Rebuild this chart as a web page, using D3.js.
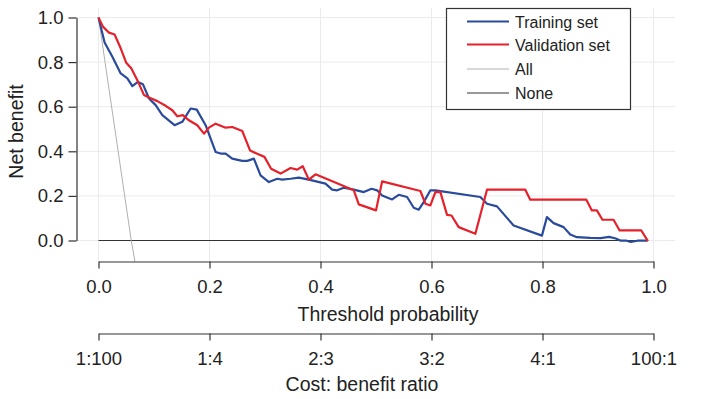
<!DOCTYPE html>
<html>
<head>
<meta charset="utf-8">
<script src="https://cdn.jsdelivr.net/npm/d3@7"></script>
<style>
  body { margin: 0; background: #fff; }
  text { font-family: "Liberation Sans", Arial, Helvetica, sans-serif; fill: #222; }
</style>
</head>
<body>
<div class="svgContainer"></div>
<script>
var w = 712;
var h = 399;

// threshold probability / net benefit
var trainX = [0, 0.011, 0.025, 0.040, 0.052, 0.061, 0.071, 0.080, 0.091, 0.103, 0.115, 0.137, 0.151, 0.166, 0.177,
  0.193, 0.211, 0.220, 0.229, 0.241, 0.259, 0.268, 0.280, 0.292, 0.307, 0.322, 0.331, 0.346, 0.361, 0.379,
  0.409, 0.421, 0.430, 0.442, 0.460, 0.478, 0.492, 0.502, 0.511, 0.529, 0.541, 0.556, 0.568, 0.577, 0.586,
  0.598, 0.607, 0.688, 0.700, 0.718, 0.748, 0.799, 0.808, 0.820, 0.838, 0.850, 0.862, 0.886, 0.905, 0.920,
  0.932, 0.941, 0.950, 0.959, 0.971, 0.989];
var trainY = [1.0, 0.888, 0.824, 0.749, 0.727, 0.692, 0.711, 0.701, 0.637, 0.607, 0.562, 0.517, 0.532, 0.592, 0.587,
  0.517, 0.397, 0.390, 0.390, 0.367, 0.357, 0.357, 0.367, 0.292, 0.262, 0.277, 0.273, 0.277, 0.282, 0.273,
  0.255, 0.228, 0.225, 0.237, 0.228, 0.217, 0.232, 0.225, 0.202, 0.184, 0.205, 0.195, 0.147, 0.138, 0.172,
  0.225, 0.225, 0.195, 0.165, 0.153, 0.067, 0.022, 0.105, 0.078, 0.060, 0.027, 0.015, 0.012, 0.011, 0.016,
  0.009, -0.001, 0, -0.006, -0.001, -0.001];

var validX = [0, 0.008, 0.019, 0.029, 0.040, 0.050, 0.059, 0.070, 0.082, 0.091, 0.106, 0.121, 0.133, 0.142, 0.152,
  0.163, 0.178, 0.190, 0.199, 0.211, 0.229, 0.241, 0.259, 0.273, 0.286, 0.299, 0.311, 0.328, 0.346, 0.358,
  0.368, 0.379, 0.391, 0.460, 0.469, 0.500, 0.511, 0.580, 0.589, 0.598, 0.607, 0.616, 0.628, 0.636, 0.649,
  0.679, 0.700, 0.769, 0.778, 0.879, 0.889, 0.898, 0.908, 0.928, 0.939, 0.978, 0.990];
var validY = [1.0, 0.959, 0.932, 0.924, 0.862, 0.797, 0.772, 0.719, 0.652, 0.641, 0.625, 0.604, 0.584, 0.557, 0.562,
  0.539, 0.517, 0.479, 0.506, 0.524, 0.506, 0.509, 0.491, 0.404, 0.389, 0.375, 0.322, 0.300, 0.325, 0.318,
  0.333, 0.273, 0.297, 0.225, 0.162, 0.135, 0.265, 0.222, 0.165, 0.157, 0.217, 0.217, 0.115, 0.112, 0.060,
  0.030, 0.228, 0.228, 0.183, 0.183, 0.135, 0.135, 0.093, 0.093, 0.045, 0.045, -0.003];

var allX = [0, 0.059, 0.066];
var allY = [1.0, 0, -0.10];
var noneX = [0, 0.99];
var noneY = [0, 0];

var xTicks = [0, 0.2, 0.4, 0.6, 0.8, 1.0];
var yTicks = [0, 0.2, 0.4, 0.6, 0.8, 1.0];
var ratioLabels = ["1:100", "1:4", "2:3", "3:2", "4:1", "100:1"];

var seriesNames = ["Training set", "Validation set", "All", "None"];
var seriesColors = ["#2a4b9b", "#e5212b", "#b0b0b0", "#333333"];
var seriesWidths = [2.2, 2.2, 1, 1];

var svg = d3.select(".svgContainer")
            .append("svg")
            .attr("width", w)
            .attr("height", h);

var xScale = d3.scaleLinear().domain([0, 1]).range([98.5, 653.5]);
var yScale = d3.scaleLinear().domain([0, 1]).range([240.5, 17.5]);

// plot region (R style, 4% extra)
var px0 = 76.5, px1 = 675, py0 = 8, py1 = 261.5;

svg.append("clipPath").attr("id", "clip")
   .append("rect")
   .attr("x", px0).attr("y", py0)
   .attr("width", px1 - px0).attr("height", py1 - py0);

// grid
svg.selectAll(".vgrid")
   .data(xTicks).enter()
   .append("line")
   .attr("x1", d => xScale(d)).attr("x2", d => xScale(d))
   .attr("y1", py0).attr("y2", py1)
   .attr("stroke", "#ebebeb").attr("stroke-width", 1);

svg.selectAll(".hgrid")
   .data(yTicks).enter()
   .append("line")
   .attr("x1", px0).attr("x2", px1)
   .attr("y1", d => yScale(d)).attr("y2", d => yScale(d))
   .attr("stroke", "#ebebeb").attr("stroke-width", 1);

var toPts = function(xs, ys) {
  return xs.map((x, i) => [x, ys[i]]);
};

var line = d3.line()
             .x(d => xScale(d[0]))
             .y(d => yScale(d[1]));

var series = [toPts(trainX, trainY), toPts(validX, validY), toPts(allX, allY), toPts(noneX, noneY)];
var drawOrder = [3, 2, 0, 1];

drawOrder.forEach(function(k) {
  svg.append("path")
     .datum(series[k])
     .attr("d", line)
     .attr("fill", "none")
     .attr("stroke", seriesColors[k])
     .attr("stroke-width", seriesWidths[k])
     .attr("stroke-linejoin", "round")
     .attr("clip-path", "url(#clip)");
});

// y axis
var yAxis = d3.axisLeft(yScale)
              .tickValues(yTicks)
              .tickFormat(d3.format(".1f"))
              .tickSize(8)
              .tickSizeOuter(0)
              .tickPadding(5);

var yAxisGroup = svg.append("g")
                    .attr("transform", "translate(" + px0 + ",0)")
                    .call(yAxis);

// x axis
var xAxis = d3.axisBottom(xScale)
              .tickValues(xTicks)
              .tickFormat(d3.format(".1f"))
              .tickSize(7)
              .tickSizeOuter(0);

var xAxisGroup = svg.append("g")
                    .attr("transform", "translate(0," + py1 + ")")
                    .call(xAxis);

// cost:benefit axis
var ratioAxis = d3.axisBottom(xScale)
                  .tickValues(xTicks)
                  .tickFormat((d, i) => ratioLabels[i])
                  .tickSize(7)
                  .tickSizeOuter(0);

var ratioGroup = svg.append("g")
                    .attr("transform", "translate(0,333.5)")
                    .call(ratioAxis);

[yAxisGroup, xAxisGroup, ratioGroup].forEach(function(g) {
  g.selectAll("path, line").attr("stroke", "#333").attr("stroke-width", 1.2);
  g.selectAll("text").style("font-size", "18.5px").attr("fill", "#222");
});
xAxisGroup.selectAll("text").attr("y", 31.5).attr("dy", 0);
ratioGroup.selectAll("text").attr("y", 31.5).attr("dy", 0);

svg.append("text")
   .attr("x", 388)
   .attr("y", 320.5)
   .attr("text-anchor", "middle")
   .style("font-size", "19.5px")
   .text("Threshold probability");

svg.append("text")
   .attr("x", 362)
   .attr("y", 391)
   .attr("text-anchor", "middle")
   .style("font-size", "19.5px")
   .text("Cost: benefit ratio");

svg.append("text")
   .attr("transform", "rotate(-90)")
   .attr("x", -131.5)
   .attr("y", 23)
   .attr("text-anchor", "middle")
   .style("font-size", "19.5px")
   .text("Net benefit");

// legend
var legend = svg.append("g");

legend.append("rect")
      .attr("x", 446.5).attr("y", 8.5)
      .attr("width", 184).attr("height", 101)
      .attr("fill", "#fff")
      .attr("stroke", "#333").attr("stroke-width", 1.2);

var rowY = [21.5, 44.5, 69, 93];

seriesNames.forEach(function(name, i) {
  legend.append("line")
        .attr("x1", 467).attr("x2", 509)
        .attr("y1", rowY[i]).attr("y2", rowY[i])
        .attr("stroke", seriesColors[i])
        .attr("stroke-width", seriesWidths[i]);
  legend.append("text")
        .attr("x", 515)
        .attr("y", rowY[i] + 6)
        .style("font-size", "16px")
        .text(name);
});
</script>
</body>
</html>
